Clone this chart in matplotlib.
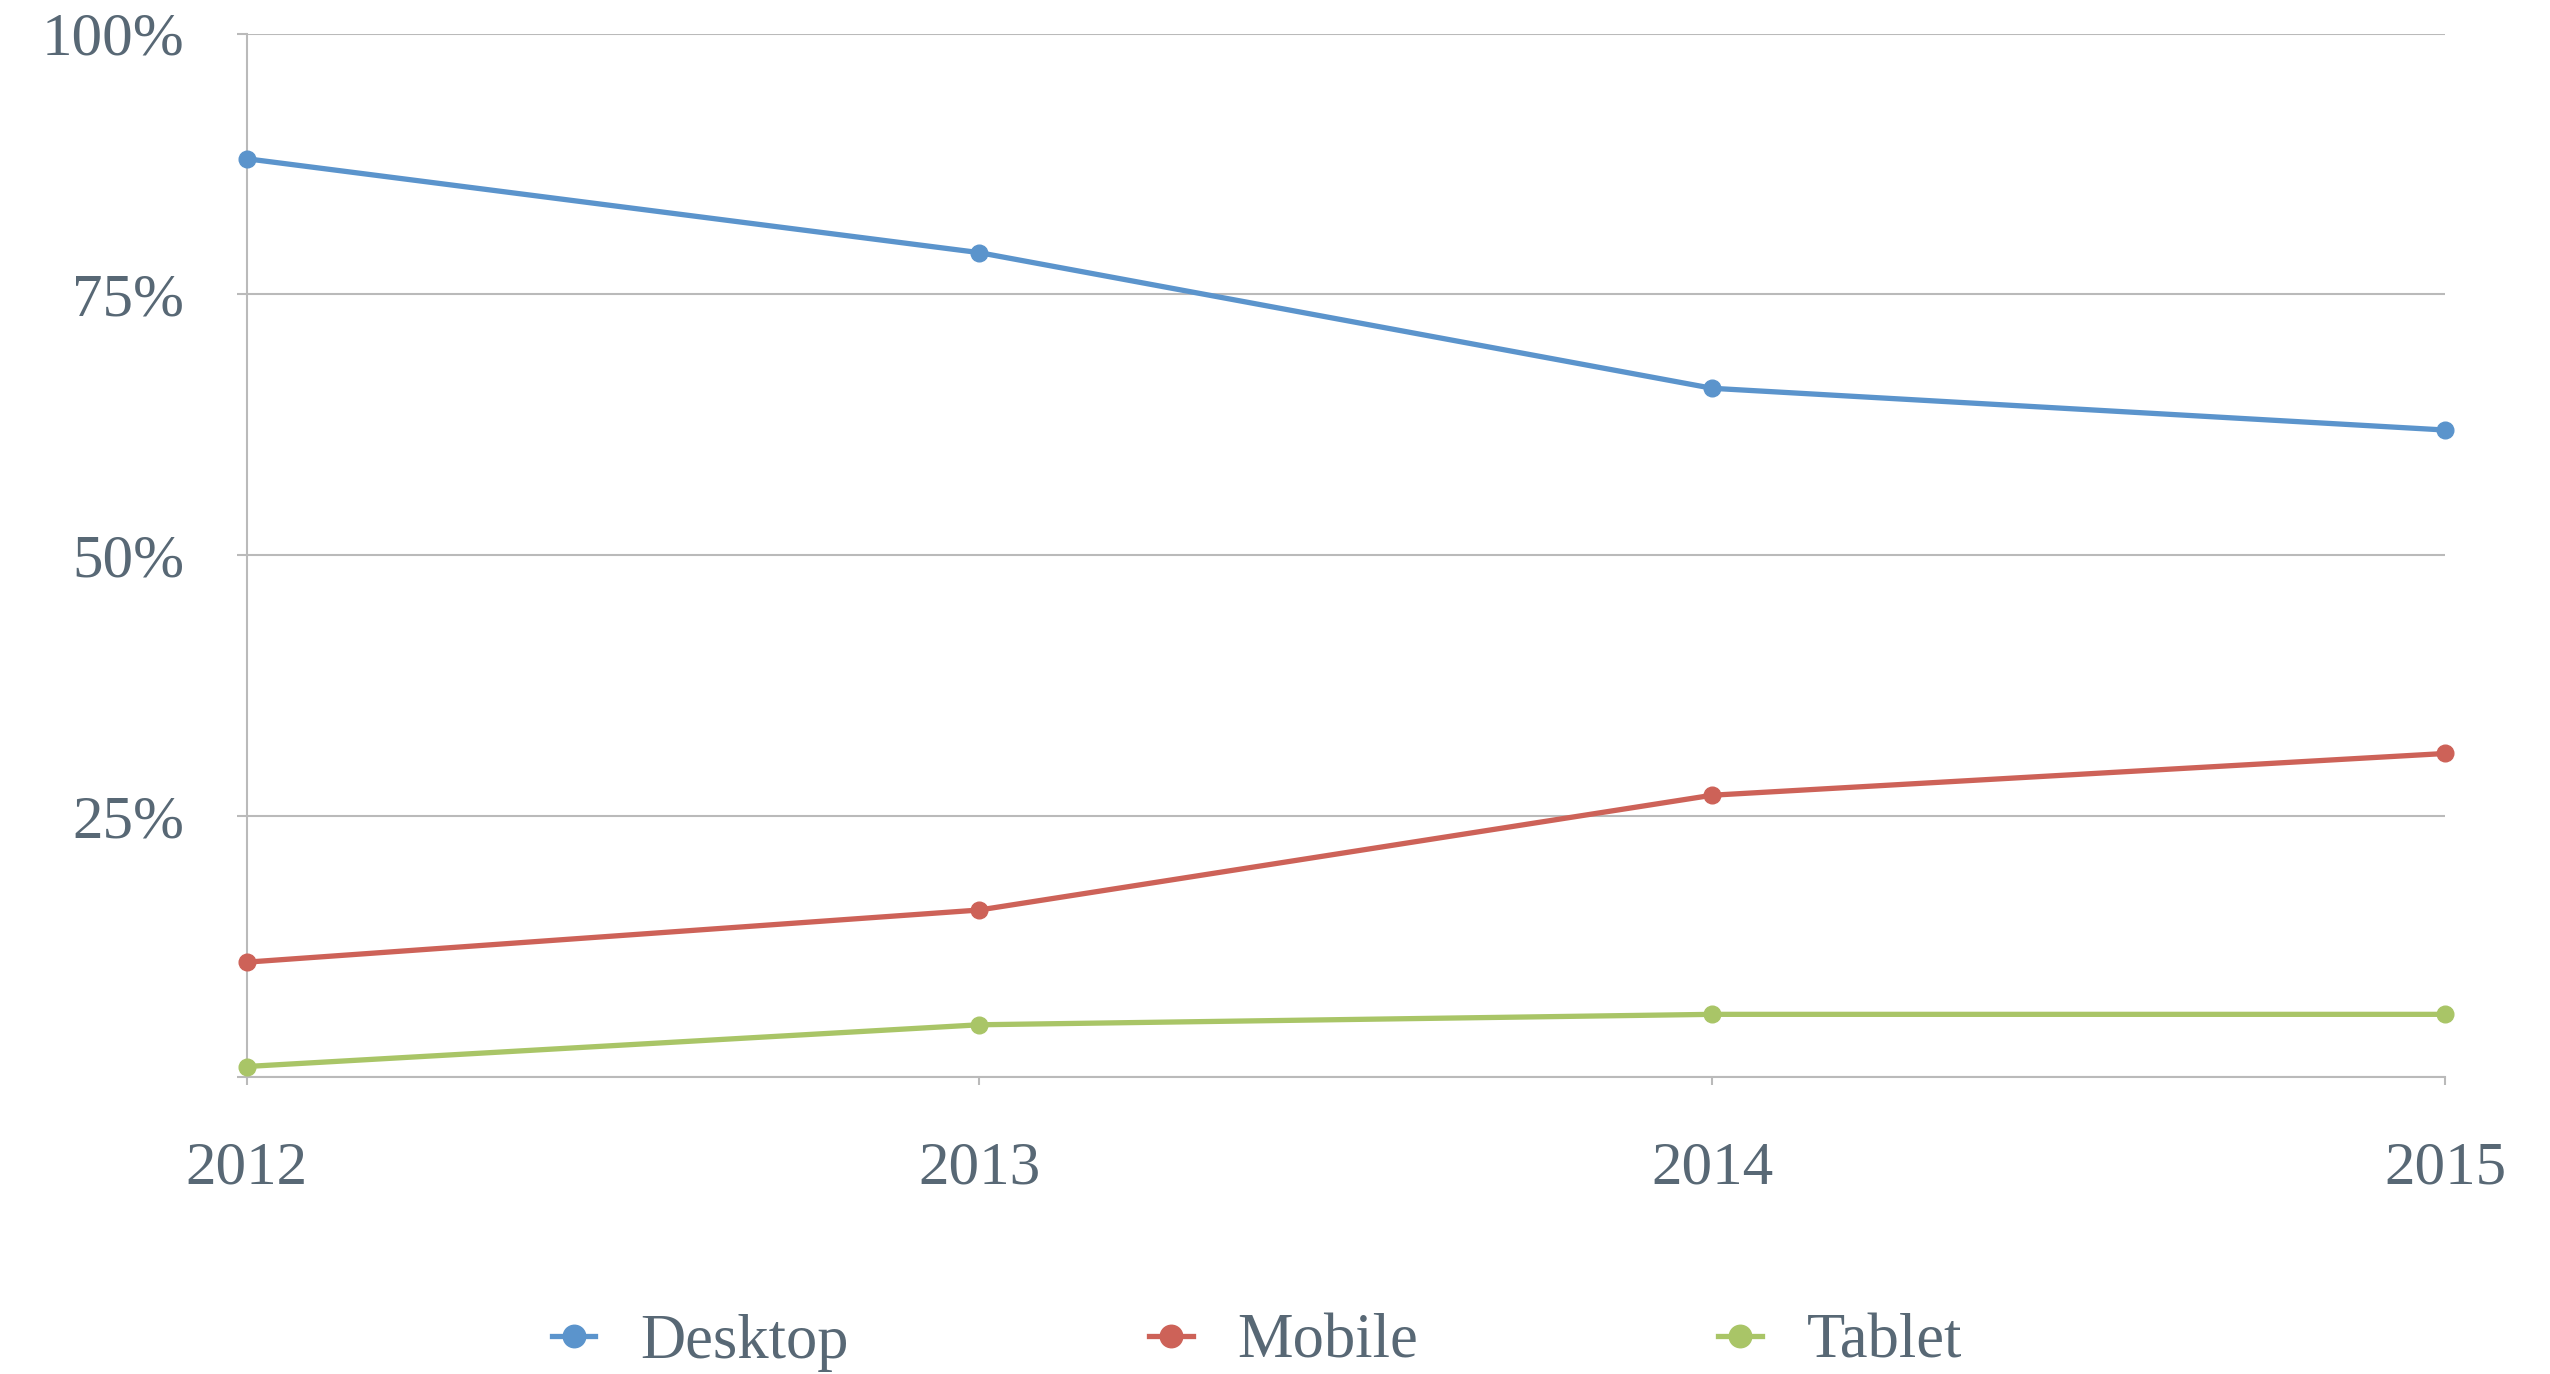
import matplotlib
matplotlib.use("Agg")
import matplotlib.pyplot as plt

years = [2012, 2013, 2014, 2015]
desktop = [88, 79, 66, 62]
mobile = [11, 16, 27, 31]
tablet = [1, 5, 6, 6]
series_names = ["Desktop", "Mobile", "Tablet"]
series_colors = ["#5b94cc", "#cd6258", "#a9c567"]
ytick_values = [0, 25, 50, 75, 100]
ytick_labels = ["", "25%", "50%", "75%", "100%"]

text_color = "#586875"
grid_color = "#bababa"
plt.rcParams["font.family"] = ["Liberation Serif", "DejaVu Serif"]

fig = plt.figure(figsize=(25.5, 13.74), dpi=100)
ax = fig.add_axes([0.0967, 0.2162, 0.9588 - 0.0967, 0.9756 - 0.2162])

for vals, name, col in zip([desktop, mobile, tablet], series_names, series_colors):
    ax.plot(years, vals, color=col, lw=3.8, marker="o", markersize=12,
            label=name, clip_on=False, zorder=3)

ax.set_xlim(years[0], years[-1])
ax.set_ylim(0, 100)
ax.set_xticks(years)
ax.set_xticklabels([str(y) for y in years])
ax.set_yticks(ytick_values)
ax.set_yticklabels(ytick_labels)

ax.yaxis.grid(True, color=grid_color, lw=1.5)
ax.set_axisbelow(True)
for s in ["top", "right"]:
    ax.spines[s].set_visible(False)
for s in ["left", "bottom"]:
    ax.spines[s].set_color(grid_color)
    ax.spines[s].set_linewidth(1.5)

ax.tick_params(axis="y", length=7, width=1.5, color=grid_color, pad=38,
               labelsize=44, labelcolor=text_color)
ax.tick_params(axis="x", length=6, width=1.5, color=grid_color, pad=40,
               labelsize=44, labelcolor=text_color)

leg = fig.legend(loc="center", bbox_to_anchor=(0.493, 1 - 1343 / 1374), ncol=3,
                 frameon=False, fontsize=45, handlelength=0.7, handletextpad=0.72,
                 columnspacing=4.8, markerscale=1.35)
for t in leg.get_texts():
    t.set_color(text_color)

fig.savefig("out.png", dpi=100)
